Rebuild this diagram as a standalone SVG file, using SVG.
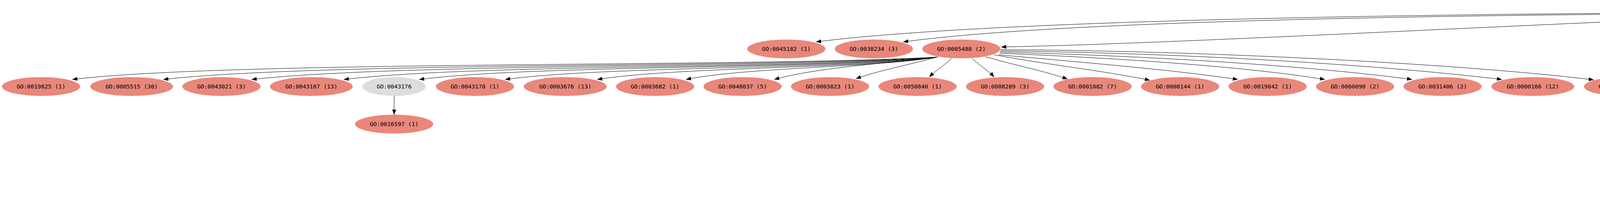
<svg xmlns="http://www.w3.org/2000/svg" width="5829" height="539" viewBox="0 0 5829 539">
<style>
.s{fill:#e9877a}
.g{fill:#dddddd}
text{font-family:"DejaVu Sans Mono","Liberation Mono",monospace;font-size:14.8px;text-anchor:middle;fill:#000}
.e path{fill:none;stroke:#000;stroke-width:1;marker-end:url(#ah)}
</style>
<defs>
<marker id="ah" markerUnits="userSpaceOnUse" markerWidth="13" markerHeight="10" viewBox="0 0 13 10" refX="13" refY="5" orient="auto">
<path d="M0,0 L13,5 L0,10 z" fill="#000"/>
</marker>
</defs>
<rect width="5829" height="539" fill="#fff"/>
<g id="edges" class="e">
<path d="M4617,31 C3500,35 2500,55 2089,107"/>
<path d="M4617,33 C3600,38 2700,55 2312,107"/>
<path d="M4617,35 C3900,62 3000,112 2563,120"/>
<path d="M4666,51 C4630,75 4580,85 4542,103"/>
<path d="M4715,54 L4715,101"/>
<path d="M4762,51 C4800,75 4850,85 4886,103"/>
<path d="M4791,46 C4900,65 5000,90 5087,108"/>
<path d="M4812,40 C4950,52 5150,78 5307,108"/>
<path d="M4814,37 C5000,50 5300,70 5500,107"/>
<path d="M2398,146 C1900,172 585,155 185,203"/>
<path d="M2398,146 C1950,174 818,158 418,203"/>
<path d="M2398,146 C2000,176 1044,160 644,203"/>
<path d="M2398,146 C2050,178 1230,162 880,203"/>
<path d="M2398,146 C2100,178 1373,165 1073,203"/>
<path d="M2398,146 C2150,178 1553,168 1293,203"/>
<path d="M2398,146 C2200,176 1739,170 1529,203"/>
<path d="M2398,146 C2250,172 1906,172 1756,203"/>
<path d="M2398,146 C2300,160 2100,170 1982,203"/>
<path d="M2402,145 C2330,165 2250,180 2191,201"/>
<path d="M2436,149 C2420,165 2395,180 2379,197"/>
<path d="M2488,149 C2505,165 2530,180 2545,197"/>
<path d="M2523,145 C2590,165 2670,180 2733,202"/>
<path d="M2545,140 C2680,165 2820,180 2944,205"/>
<path d="M2557,140 C2800,162 3000,178 3169,203"/>
<path d="M2559,136 C2900,150 3200,172 3392,203"/>
<path d="M2560,133 C2950,143 3350,168 3615,203"/>
<path d="M2561,130 C3000,135 3500,162 3845,203"/>
<path d="M2561,127 C3000,128 3700,158 4080,204"/>
<path d="M4650,145 C4580,165 4500,180 4446,203"/>
<path d="M4689,149 C4670,165 4648,180 4631,198"/>
<path d="M4742,149 C4760,165 4782,180 4797,198"/>
<path d="M4778,145 C4850,165 4930,180 4988,202"/>
<path d="M4783,142 C4900,165 5100,180 5201,206"/>
<path d="M4786,140 C4950,168 5300,175 5426,203"/>
<path d="M5428,142 C5500,165 5600,180 5656,203"/>
<path d="M1009,245 L1009,293"/>
<path d="M4379,245 L4379,293"/>
<path d="M4603,245 L4603,293"/>
<path d="M4603,341 L4603,389"/>
<path d="M4603,437 L4603,485"/>
<path d="M5723,245 L5723,293"/>
</g>
<g id="n_GO0003674"><ellipse class="s" cx="4715" cy="29" rx="100" ry="24"/><text x="4715" y="34">GO:0003674 (1)</text></g>
<g id="n_GO0045182"><ellipse class="s" cx="2013" cy="125" rx="100" ry="24"/><text x="2013" y="130">GO:0045182 (1)</text></g>
<g id="n_GO0030234"><ellipse class="s" cx="2237" cy="125" rx="100" ry="24"/><text x="2237" y="130">GO:0030234 (3)</text></g>
<g id="n_GO0005488"><ellipse class="s" cx="2461" cy="125" rx="100" ry="24"/><text x="2461" y="130">GO:0005488 (2)</text></g>
<g id="n_GO0005215"><ellipse class="s" cx="4491" cy="125" rx="100" ry="24"/><text x="4491" y="130">GO:0005215 (2)</text></g>
<g id="n_GO0003824"><ellipse class="s" cx="4715" cy="125" rx="100" ry="24"/><text x="4715" y="130">GO:0003824 (3)</text></g>
<g id="n_GO0005198"><ellipse class="s" cx="4939" cy="125" rx="100" ry="24"/><text x="4939" y="130">GO:0005198 (6)</text></g>
<g id="n_GO0003774"><ellipse class="s" cx="5163" cy="125" rx="100" ry="24"/><text x="5163" y="130">GO:0003774 (1)</text></g>
<g id="n_GO0060089"><ellipse class="g" cx="5370" cy="125" rx="81" ry="24"/><text x="5370" y="130">GO:0060089</text></g>
<g id="n_GO0016209"><ellipse class="s" cx="5577" cy="125" rx="100" ry="24"/><text x="5577" y="130">GO:0016209 (3)</text></g>
<g id="n_GO0019825"><ellipse class="s" cx="105" cy="221" rx="100" ry="24"/><text x="105" y="226">GO:0019825 (1)</text></g>
<g id="n_GO0005515"><ellipse class="s" cx="337" cy="221" rx="106" ry="24"/><text x="337" y="226">GO:0005515 (30)</text></g>
<g id="n_GO0043021"><ellipse class="s" cx="567" cy="221" rx="100" ry="24"/><text x="567" y="226">GO:0043021 (3)</text></g>
<g id="n_GO0043167"><ellipse class="s" cx="797" cy="221" rx="106" ry="24"/><text x="797" y="226">GO:0043167 (13)</text></g>
<g id="n_GO0043176"><ellipse class="g" cx="1009" cy="221" rx="81" ry="24"/><text x="1009" y="226">GO:0043176</text></g>
<g id="n_GO0043178"><ellipse class="s" cx="1216" cy="221" rx="100" ry="24"/><text x="1216" y="226">GO:0043178 (1)</text></g>
<g id="n_GO0003676"><ellipse class="s" cx="1447" cy="221" rx="106" ry="24"/><text x="1447" y="226">GO:0003676 (13)</text></g>
<g id="n_GO0003682"><ellipse class="s" cx="1677" cy="221" rx="100" ry="24"/><text x="1677" y="226">GO:0003682 (1)</text></g>
<g id="n_GO0048037"><ellipse class="s" cx="1901" cy="221" rx="100" ry="24"/><text x="1901" y="226">GO:0048037 (5)</text></g>
<g id="n_GO0003823"><ellipse class="s" cx="2125" cy="221" rx="100" ry="24"/><text x="2125" y="226">GO:0003823 (1)</text></g>
<g id="n_GO0050840"><ellipse class="s" cx="2349" cy="221" rx="100" ry="24"/><text x="2349" y="226">GO:0050840 (1)</text></g>
<g id="n_GO0008289"><ellipse class="s" cx="2573" cy="221" rx="100" ry="24"/><text x="2573" y="226">GO:0008289 (3)</text></g>
<g id="n_GO0001882"><ellipse class="s" cx="2797" cy="221" rx="100" ry="24"/><text x="2797" y="226">GO:0001882 (7)</text></g>
<g id="n_GO0008144"><ellipse class="s" cx="3021" cy="221" rx="100" ry="24"/><text x="3021" y="226">GO:0008144 (1)</text></g>
<g id="n_GO0019842"><ellipse class="s" cx="3245" cy="221" rx="100" ry="24"/><text x="3245" y="226">GO:0019842 (1)</text></g>
<g id="n_GO0060090"><ellipse class="s" cx="3469" cy="221" rx="100" ry="24"/><text x="3469" y="226">GO:0060090 (2)</text></g>
<g id="n_GO0031406"><ellipse class="s" cx="3693" cy="221" rx="100" ry="24"/><text x="3693" y="226">GO:0031406 (2)</text></g>
<g id="n_GO0000166"><ellipse class="s" cx="3924" cy="221" rx="106" ry="24"/><text x="3924" y="226">GO:0000166 (12)</text></g>
<g id="n_GO0019840"><ellipse class="s" cx="4155" cy="221" rx="100" ry="24"/><text x="4155" y="226">GO:0019840 (1)</text></g>
<g id="n_GO0016787"><ellipse class="s" cx="4379" cy="221" rx="100" ry="24"/><text x="4379" y="226">GO:0016787 (8)</text></g>
<g id="n_GO0016874"><ellipse class="s" cx="4603" cy="221" rx="100" ry="24"/><text x="4603" y="226">GO:0016874 (2)</text></g>
<g id="n_GO0016491"><ellipse class="s" cx="4827" cy="221" rx="100" ry="24"/><text x="4827" y="226">GO:0016491 (8)</text></g>
<g id="n_GO0004386"><ellipse class="s" cx="5051" cy="221" rx="100" ry="24"/><text x="5051" y="226">GO:0004386 (2)</text></g>
<g id="n_GO0016740"><ellipse class="s" cx="5275" cy="221" rx="100" ry="24"/><text x="5275" y="226">GO:0016740 (3)</text></g>
<g id="n_GO0016829"><ellipse class="s" cx="5499" cy="221" rx="100" ry="24"/><text x="5499" y="226">GO:0016829 (4)</text></g>
<g id="n_GO0004871"><ellipse class="s" cx="5723" cy="221" rx="100" ry="24"/><text x="5723" y="226">GO:0004871 (2)</text></g>
<g id="n_GO0016597"><ellipse class="s" cx="1009" cy="317" rx="100" ry="24"/><text x="1009" y="322">GO:0016597 (1)</text></g>
<g id="n_GO0008233"><ellipse class="s" cx="4379" cy="317" rx="100" ry="24"/><text x="4379" y="322">GO:0008233 (2)</text></g>
<g id="n_GO0016879"><ellipse class="g" cx="4603" cy="317" rx="81" ry="24"/><text x="4603" y="322">GO:0016879</text></g>
<g id="n_GO0004872"><ellipse class="s" cx="5723" cy="317" rx="100" ry="24"/><text x="5723" y="322">GO:0004872 (2)</text></g>
<g id="n_GO0016881"><ellipse class="g" cx="4603" cy="413" rx="81" ry="24"/><text x="4603" y="418">GO:0016881</text></g>
<g id="n_GO0019787"><ellipse class="s" cx="4603" cy="509" rx="100" ry="24"/><text x="4603" y="514">GO:0019787 (2)</text></g>
</svg>
